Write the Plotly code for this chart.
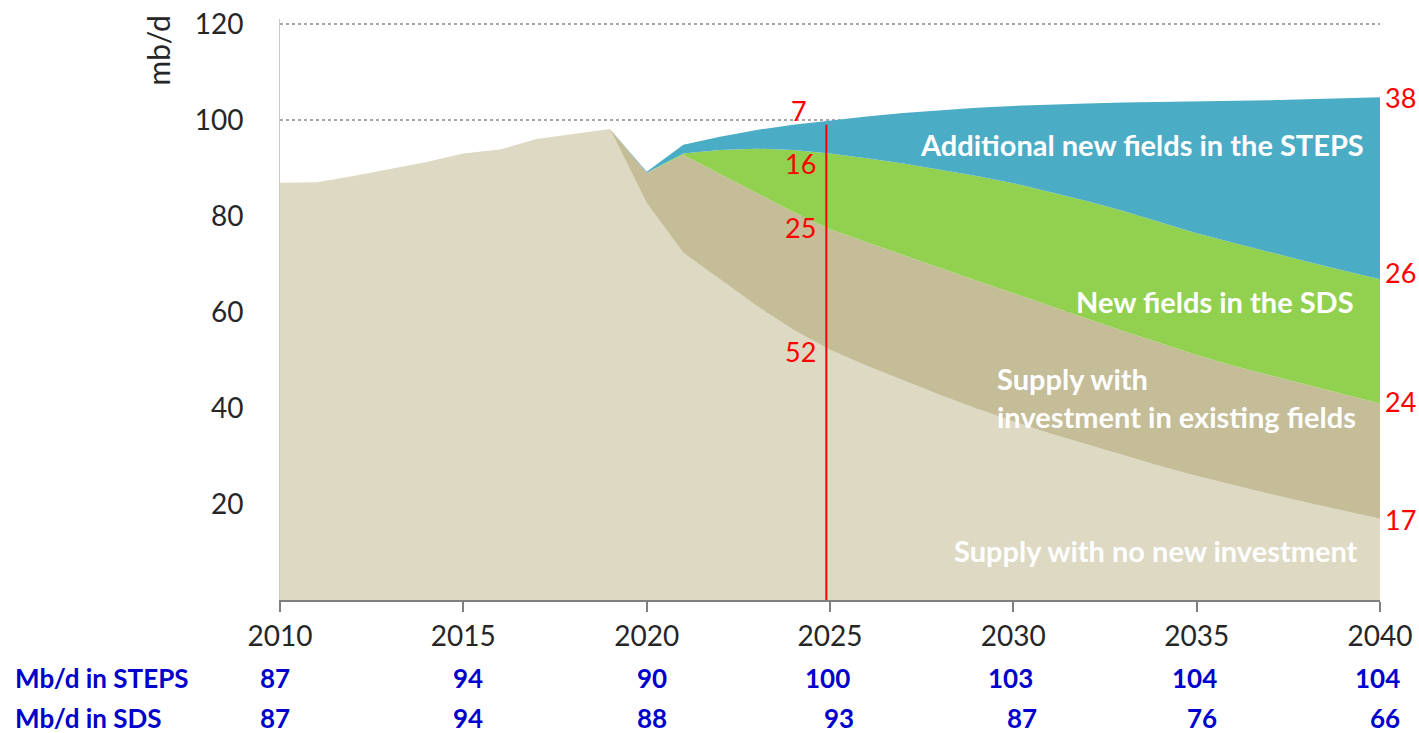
import plotly.graph_objects as go

years = list(range(2010, 2041))

# Layer contributions (mb/d)
no_new_investment = [86.9, 87.0, 88.3, 89.8, 91.2, 93.0, 93.8, 96.0, 97.1, 98.1,
                     82.7, 72.3, 66.8, 61.3, 56.3, 52.1, 48.8, 45.7, 42.7, 39.9,
                     37.2, 34.7, 32.4, 30.1, 27.9, 25.8, 23.9, 22.1, 20.3, 18.6, 16.9]
existing_fields = [0, 0, 0, 0, 0, 0, 0, 0, 0, 0,
                   6.3, 20.4, 21.9, 23.4, 24.5, 25.1, 25.7, 26.1, 26.4, 26.6,
                   26.7, 26.5, 26.2, 25.9, 25.6, 25.2, 24.9, 24.7, 24.5, 24.2, 24.0]
new_fields_sds = [0, 0, 0, 0, 0, 0, 0, 0, 0, 0,
                  0.0, 0.3, 5.0, 9.3, 12.9, 15.8, 17.5, 19.1, 20.5, 21.8,
                  22.9, 23.8, 24.5, 25.0, 25.2, 25.4, 25.6, 25.6, 25.7, 25.8, 25.9]
additional_steps = [0, 0, 0, 0, 0, 0, 0, 0, 0, 0,
                    0.2, 1.8, 2.8, 3.9, 5.3, 6.9, 8.7, 10.5, 12.4, 14.2,
                    16.1, 18.2, 20.3, 22.6, 25.0, 27.4, 29.5, 31.7, 33.8, 35.9, 37.9]

table_years = [2010, 2015, 2020, 2025, 2030, 2035, 2040]
steps_total = ["87", "94", "90", "100", "103", "104", "104"]
sds_total = ["87", "94", "88", "93", "87", "76", "66"]

labels_2025 = ["7", "16", "25", "52"]
labels_2040 = ["38", "26", "24", "17"]

series = [
    ("Supply with no new investment", no_new_investment, "#DDD9C3"),
    ("Supply with investment in existing fields", existing_fields, "#C4BD97"),
    ("New fields in the SDS", new_fields_sds, "#92D050"),
    ("Additional new fields in the STEPS", additional_steps, "#4BACC6"),
]

FONT = "Lato"
fig = go.Figure()
for name, vals, col in series:
    fig.add_trace(go.Scatter(
        x=years, y=vals, name=name, mode="lines", stackgroup="one",
        line=dict(width=0, color=col), fillcolor=col, showlegend=False))

fig.update_layout(
    width=1419, height=733,
    margin=dict(l=280, r=39, t=19, b=133),
    paper_bgcolor="white", plot_bgcolor="white",
    font=dict(family=FONT, color="#404040"),
)
fig.update_xaxes(range=[2010, 2040], tickvals=table_years, automargin=False,
                 ticks="outside", ticklen=10, tickwidth=2, tickcolor="#7F7F7F",
                 showline=True, linecolor="#7F7F7F", linewidth=2,
                 showgrid=False, zeroline=False,
                 tickfont=dict(size=28, color="#262626", family=FONT))
fig.update_yaxes(range=[0, 121], tickvals=[20, 40, 60, 80, 100, 120], automargin=False,
                 showline=True, linecolor="#C8C8C8", linewidth=1,
                 showgrid=True, gridcolor="#A6A6A6", griddash="dot", gridwidth=2,
                 zeroline=False, ticks="", ticklabelstandoff=30,
                 tickfont=dict(size=28, color="#262626", family=FONT))

# red vertical marker at 2025
fig.add_shape(type="line", xref="x", yref="y", x0=2024.9, x1=2024.9, y0=0, y1=99,
              line=dict(color="#FF0000", width=2))

red = dict(size=27, color="#FF0000", family=FONT)
for txt, yv, xs in zip(labels_2025, [102.0, 91.0, 77.5, 51.7], [-21, -12, -12, -12]):
    fig.add_annotation(x=2025, y=yv, xref="x", yref="y", text=txt, showarrow=False,
                       xanchor="right", yanchor="middle", xshift=xs, font=red)
for txt, yv in zip(labels_2040, [104.6, 68.3, 41.3, 16.7]):
    fig.add_annotation(x=2040, y=yv, xref="x", yref="y", text=txt, showarrow=False,
                       xanchor="left", yanchor="middle", xshift=3, font=red)

white = dict(size=29, color="white", family=FONT, weight="bold")
fig.add_annotation(x=2039.62, y=94.8, text="Additional new fields in the STEPS",
                   showarrow=False, xanchor="right", yanchor="middle", font=white)
fig.add_annotation(x=2039.35, y=62.1, text="New fields in the SDS",
                   showarrow=False, xanchor="right", yanchor="middle", font=white)
fig.add_annotation(x=2029.5, y=42.1, text="Supply with<br>investment in existing fields",
                   showarrow=False, xanchor="left", yanchor="middle", align="left",
                   font=white)
fig.add_annotation(x=2039.45, y=10.4, text="Supply with no new investment",
                   showarrow=False, xanchor="right", yanchor="middle", font=white)

# mb/d unit label
fig.add_annotation(x=-0.1105, y=0.9466, xref="paper", yref="paper", text="mb/d",
                   textangle=-90, showarrow=False, xanchor="center", yanchor="middle",
                   font=dict(size=30, color="#262626", family=FONT))

# table rows below the axis
blue = dict(size=26, color="#0000CC", family=FONT, weight="bold")
fig.add_annotation(x=-0.2427, y=-0.1343, xref="paper", yref="paper", text="Mb/d in STEPS",
                   showarrow=False, xanchor="left", yanchor="middle", font=blue)
fig.add_annotation(x=-0.2427, y=-0.2031, xref="paper", yref="paper", text="Mb/d in SDS",
                   showarrow=False, xanchor="left", yanchor="middle", font=blue)
for yr, s, d in zip(table_years, steps_total, sds_total):
    shift = 12 if yr == 2010 else 22
    fig.add_annotation(x=yr, y=-0.1343, xref="x", yref="paper", text=s, showarrow=False,
                       xanchor="right", yanchor="middle", xshift=shift, font=blue)
    fig.add_annotation(x=yr, y=-0.2031, xref="x", yref="paper", text=d, showarrow=False,
                       xanchor="right", yanchor="middle",
                       xshift=shift + (4 if yr in (2025, 2030) else 0), font=blue)

fig.write_html("out.html", config={"displayModeBar": False},
               post_script="document.body.style.margin='0';"
                           "document.body.style.overflow='hidden';")
